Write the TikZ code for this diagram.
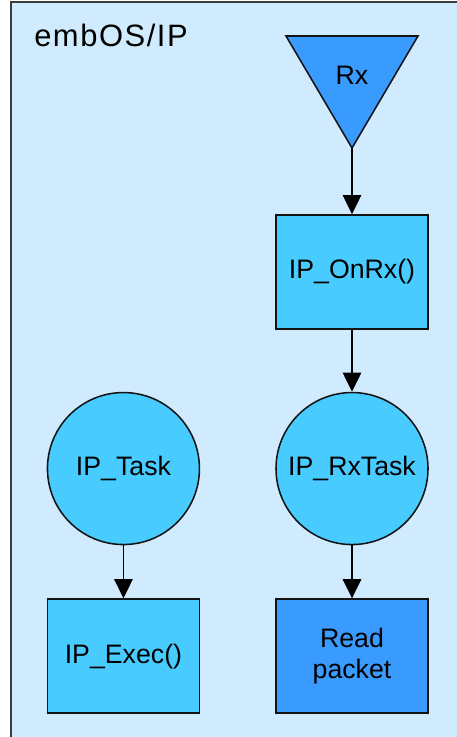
\documentclass[tikz,border=0pt]{standalone}
\usepackage{fontspec}
\setmainfont{Liberation Sans}
\usetikzlibrary{arrows.meta, positioning, calc}
\definecolor{FrameBg}   {RGB}{208, 235, 254}
\definecolor{FrameLine} {RGB}{ 60,  60,  60}
\definecolor{TaskCyan}  {RGB}{ 72, 204, 255}
\definecolor{PacketBlue}{RGB}{ 58, 155, 255}
\definecolor{EdgeDark}  {RGB}{ 20,  20,  20}
\newcommand{\nodefont}{\fontsize{19}{22.5}\selectfont}
\tikzset{
  % Outer stack frame
  framebox/.style={
    fill=FrameBg, draw=FrameLine, line width=1.1pt
  },
  % Frame caption
  framelabel/.style={
    font=\fontsize{22}{26}\selectfont\addfontfeature{LetterSpace=5},
    inner sep=0pt
  },
  % Function call box
  funcnode/.style={
    rectangle, fill=TaskCyan, draw=EdgeDark, line width=1.1pt,
    minimum width=3.8cm, minimum height=2.85cm, inner sep=0pt,
    font=\nodefont, align=center
  },
  % Packet handling box
  packetnode/.style={
    funcnode, fill=PacketBlue
  },
  % Task node
  tasknode/.style={
    circle, fill=TaskCyan, draw=EdgeDark, line width=1.1pt,
    minimum size=3.8cm, inner sep=0pt, font=\nodefont
  },
  % Incoming event (interrupt), triangle pointing down
  eventshape/.style={
    fill=PacketBlue, draw=EdgeDark, line width=1.1pt, line join=miter
  },
  eventnode/.style={
    inner sep=0pt, font=\nodefont
  },
  % Arrow
  flowarrow/.style={
    -{Triangle[width=0.46cm, length=0.48cm]}, line width=1.3pt, color=black
  }
}

\begin{document}
\begin{tikzpicture}

  \useasboundingbox (0,0) rectangle (11.4,-18.425);

  % ── Frame ────────────────────────────────────────────────────────────────
  \draw[framebox] (0.275,-0.05) rectangle (12,-19);
  \node[framelabel, anchor=base west] (caption) at (0.85,-1.175) {embOS/IP};

  % ── Receive path (right column) ──────────────────────────────────────────
  \coordinate (rxc) at (8.8,-1.875);
  \coordinate (rxtip) at ($(rxc)+(0,-1.825)$);
  \draw[eventshape] ($(rxc)+(-1.65,0.975)$) -- ($(rxc)+(1.65,0.975)$) -- (rxtip) -- cycle;
  \node[eventnode] (rx) at (rxc) {Rx};

  \node[funcnode] (onrx) at (8.8,-6.8) {IP\_OnRx()};
  \node[tasknode, below=1.55cm of onrx] (rxtask) {IP\_RxTask};
  \node[packetnode, below=1.325cm of rxtask] (readpkt) {Read\\packet};

  % ── Main task (left column) ──────────────────────────────────────────────
  \node[tasknode, left=1.875cm of rxtask] (iptask) {IP\_Task};
  \node[funcnode, below=1.325cm of iptask] (ipexec) {IP\_Exec()};

  % ── Arrows ───────────────────────────────────────────────────────────────
  \draw[flowarrow] (rxtip)        -- (onrx.north);
  \draw[flowarrow] (onrx.south)   -- (rxtask.north);
  \draw[flowarrow] (rxtask.south) -- (readpkt.north);
  \draw[flowarrow] (iptask.south) -- (ipexec.north);

\end{tikzpicture}
\end{document}
